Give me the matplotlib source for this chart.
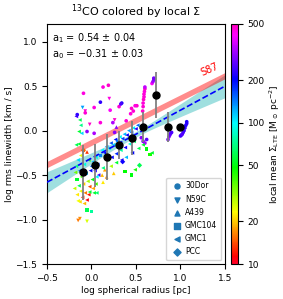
import numpy as np
import matplotlib
matplotlib.use("Agg")
import matplotlib.pyplot as plt
from matplotlib.colors import LogNorm
from matplotlib.ticker import FixedLocator, FixedFormatter, NullLocator

# fit parameters and Solomon+87 relation
a1, a1_err = 0.54, 0.04
a0, a0_err = -0.31, 0.03
s87_slope, s87_int = 0.5, -0.14

# region points: log R, log sigma, local Sigma
dor_x = [-0.09, 0.13, 0.19, 0.10, 0.03, 0.21, -0.07, 0.10, 0.03, -0.05, 0.24, 0.26, 0.45, 0.51,
         0.47, 0.44, 0.49, 0.31, 0.34, 0.39, -0.16, 0.33,
         0.575, 0.58, 0.58, 0.585, 0.59, 0.59, 0.595, 0.60, 0.60, 0.68, 0.69, 0.70, 0.70,
         0.56, 0.58, 0.60, 0.62, 0.86, 0.87, 0.88, 0.89, 0.90,
         1.00, 1.01, 1.02, 1.03, 1.04, 1.05, 1.06, 1.07, 1.07]
dor_y = [0.42, 0.49, 0.51, 0.32, 0.26, 0.23, 0.20, 0.09, -0.03, -0.01, 0.09, -0.02, 0.25, 0.28,
         0.22, 0.19, 0.28, 0.27, 0.31, 0.11, 0.18, 0.30,
         0.22, 0.27, 0.31, 0.35, 0.38, 0.41, 0.44, 0.47, 0.49, 0.53, 0.55, 0.57, 0.59,
         -0.08, -0.12, -0.14, -0.10, -0.10, -0.07, -0.05, -0.03, -0.02,
         -0.06, -0.05, -0.04, -0.02, 0.00, 0.03, 0.06, 0.08, 0.10]
dor_s = [450, 450, 480, 230, 450, 420, 470, 460, 330, 300, 330, 300, 480, 480,
         470, 460, 450, 470, 220, 470, 230, 250,
         480, 470, 460, 480, 470, 460, 450, 480, 350, 420, 330, 300, 280,
         300, 280, 320, 260, 280, 300, 270, 260, 250,
         250, 240, 260, 250, 240, 230, 220, 230, 220]

n59_x = [-0.10, -0.02, 0.26, -0.07, -0.13, -0.15, -0.05, 0.20]
n59_y = [0.26, 0.07, 0.12, 0.22, -0.99, -1.01, -1.02, 0.36]
n59_s = [130, 480, 480, 470, 17, 16, 26, 450]

a439_x = [0.25, 0.15, 0.17, -0.09, -0.05, 0.13, 0.12, 0.28]
a439_y = [-0.48, -0.44, -0.52, -0.22, -0.24, -0.58, -0.50, 0.04]
a439_s = [20, 18, 17, 15, 13, 22, 19, 300]

g104_x = [0.00, -0.05, 0.62, 0.66, 0.45, -0.16, 0.38, 0.10]
g104_y = [-0.91, -0.89, -0.21, -0.27, -0.50, -0.55, -0.46, -0.28]
g104_s = [75, 60, 50, 45, 50, 55, 48, 140]

gmc1_x = [0.00, 0.02, 0.05, 0.07, 0.12, 0.15, 0.17, 0.20, 0.22, 0.25, 0.27, 0.32, 0.35,
          0.37, 0.40, 0.42, 0.45, 0.47, 0.50, 0.52, 0.55, 0.04, 0.08, 0.13, 0.18, 0.23,
          0.28, 0.33, 0.38, 0.43, 0.48, 0.28, 0.34, 0.39, 0.46, 0.53, 0.58, 0.68, 0.49,
          0.22, -0.13, -0.12, -0.14, -0.11, -0.17,
          -0.17, -0.14, -0.12, -0.15, -0.17, -0.13, -0.08, -0.03, -0.06, -0.11, -0.04,
          -0.09, -0.14, -0.02, 0.01, -0.12, -0.07, -0.16, -0.03, -0.10, -0.05, -0.13,
          -0.08, -0.15, 0.02, 0.05, 0.03, -0.01, 0.06, -0.18, -0.19, -0.02, 0.06]
gmc1_y = [-0.40, -0.35, -0.30, -0.38, -0.22, -0.25, -0.18, -0.20, -0.14, -0.16, -0.10,
          -0.07, -0.09, -0.04, -0.05, 0.00, -0.02, 0.03, 0.02, 0.06, 0.05, -0.45, -0.50,
          -0.42, -0.33, -0.30, -0.26, -0.22, -0.19, -0.15, -0.12, -0.36, -0.33, -0.30,
          -0.25, -0.20, -0.16, -0.25, -0.44, -0.40, 0.12, 0.06, -0.01, -0.03, 0.16,
          -0.16, -0.15, -0.28, -0.33, -0.40, -0.45, -0.38, -0.33, -0.48, -0.52, -0.57,
          -0.60, -0.62, -0.63, -0.55, -0.68, -0.70, -0.72, -0.72, -0.75, -0.78, -0.80,
          -0.82, -0.79, -0.65, -0.60, -0.70, -0.45, -0.52, -0.47, -0.65, -0.69, -0.70]
gmc1_s = [150, 120, 90, 180, 100, 200, 130, 90, 160, 110, 200, 95, 170, 120, 210, 130,
          160, 100, 230, 150, 110, 220, 240, 70, 60, 200, 180, 75, 210, 90, 65, 55, 220,
          120, 200, 60, 55, 55, 45, 30, 60, 70, 55, 110, 240,
          60, 55, 25, 110, 70, 150, 90, 45, 120, 40, 30, 20, 60, 14, 50, 24, 16, 22, 12,
          13, 11, 21, 19, 24, 18, 40, 55, 200, 100, 35, 28, 55, 65]

pcc_x = [0.30, 0.54, -0.09, 0.35]
pcc_y = [-0.12, -0.39, -0.22, -0.35]
pcc_s = [140, 60, 15, 210]

regions = ["30Dor", "N59C", "A439", "GMC104", "GMC1", "PCC"]
markers = ["o", "v", "^", "s", "<", "D"]

# binned medians
bin_x = [-0.10, 0.04, 0.17, 0.31, 0.45, 0.58, 0.72, 0.86, 0.99]
bin_y = [-0.47, -0.39, -0.30, -0.16, -0.08, 0.04, 0.40, 0.04, 0.04]
bin_err = [0.31, 0.24, 0.26, 0.16, 0.19, 0.17, 0.26, 0.17, 0.03]

plt.rcParams["font.size"] = 6.5
fig = plt.figure(figsize=(2.83, 2.99), dpi=100)
ax = fig.add_axes([0.166, 0.117, 0.629, 0.803])
cax = fig.add_axes([0.816, 0.117, 0.025, 0.803])

norm = LogNorm(vmin=10, vmax=500)
cmap = plt.get_cmap("gist_rainbow")

xx = np.linspace(-0.5, 1.5, 100)
fit = a0 + a1 * xx
half = np.sqrt(a0_err**2 + (3 * a1_err * (xx - 0.45))**2)
ax.fill_between(xx, fit - half, fit + half, color="#95dcdc", alpha=0.9, lw=0, zorder=1)
ax.plot(xx, s87_int + s87_slope * xx, color="red", alpha=0.45, lw=4, zorder=2)
ax.text(1.33, 0.69, "S87", color="red", rotation=24, ha="center", va="center", fontsize=7)

data = [(dor_x, dor_y, dor_s), (n59_x, n59_y, n59_s), (a439_x, a439_y, a439_s),
        (g104_x, g104_y, g104_s), (gmc1_x, gmc1_y, gmc1_s), (pcc_x, pcc_y, pcc_s)]
sc = None
for (x, y, s), m in zip(data, markers):
    sc = ax.scatter(x, y, c=s, cmap=cmap, norm=norm, marker=m, s=7, lw=0, zorder=3)

ax.plot(xx, fit, "b--", lw=1.2, zorder=4)
ax.errorbar(bin_x, bin_y, yerr=bin_err, fmt="o", color="black", ms=5,
            ecolor="grey", elinewidth=1.3, capsize=0, zorder=5)

# legend handles
handles = [ax.scatter([], [], marker=m, s=13, color="C0", label=r) for r, m in zip(regions, markers)]
ax.legend(handles=handles, loc="lower right", fontsize=5.5, handletextpad=0.2,
          borderpad=0.5, labelspacing=0.55, handlelength=1.8)

ax.text(0.03, 0.97, "a$_1$ = %.2f $\\pm$ %.2f\na$_0$ = $-$%.2f $\\pm$ %.2f" % (a1, a1_err, -a0, a0_err),
        transform=ax.transAxes, ha="left", va="top", fontsize=7)

ax.set_xlim(-0.5, 1.5)
ax.set_ylim(-1.5, 1.2)
ax.set_xticks([-0.5, 0.0, 0.5, 1.0, 1.5])
ax.set_yticks([-1.5, -1.0, -0.5, 0.0, 0.5, 1.0])
ax.tick_params(labelsize=6.5)
ax.set_xlabel("log spherical radius [pc]", fontsize=6.5, labelpad=2)
ax.set_ylabel("log rms linewidth [km / s]", fontsize=6.5, labelpad=1)
ax.set_title(r"$^{13}$CO colored by local $\Sigma$", fontsize=8)

cb = fig.colorbar(sc, cax=cax)
cb.ax.yaxis.set_major_locator(FixedLocator([10, 20, 50, 100, 200, 500]))
cb.ax.yaxis.set_major_formatter(FixedFormatter(["10", "20", "50", "100", "200", "500"]))
cb.ax.yaxis.set_minor_locator(NullLocator())
cb.ax.tick_params(labelsize=6.5)
cb.set_label(r"local mean $\Sigma_{\rm LTE}$ [M$_\odot$ pc$^{-2}$]", fontsize=6.5, labelpad=2)

fig.savefig("out.png", dpi=100)
